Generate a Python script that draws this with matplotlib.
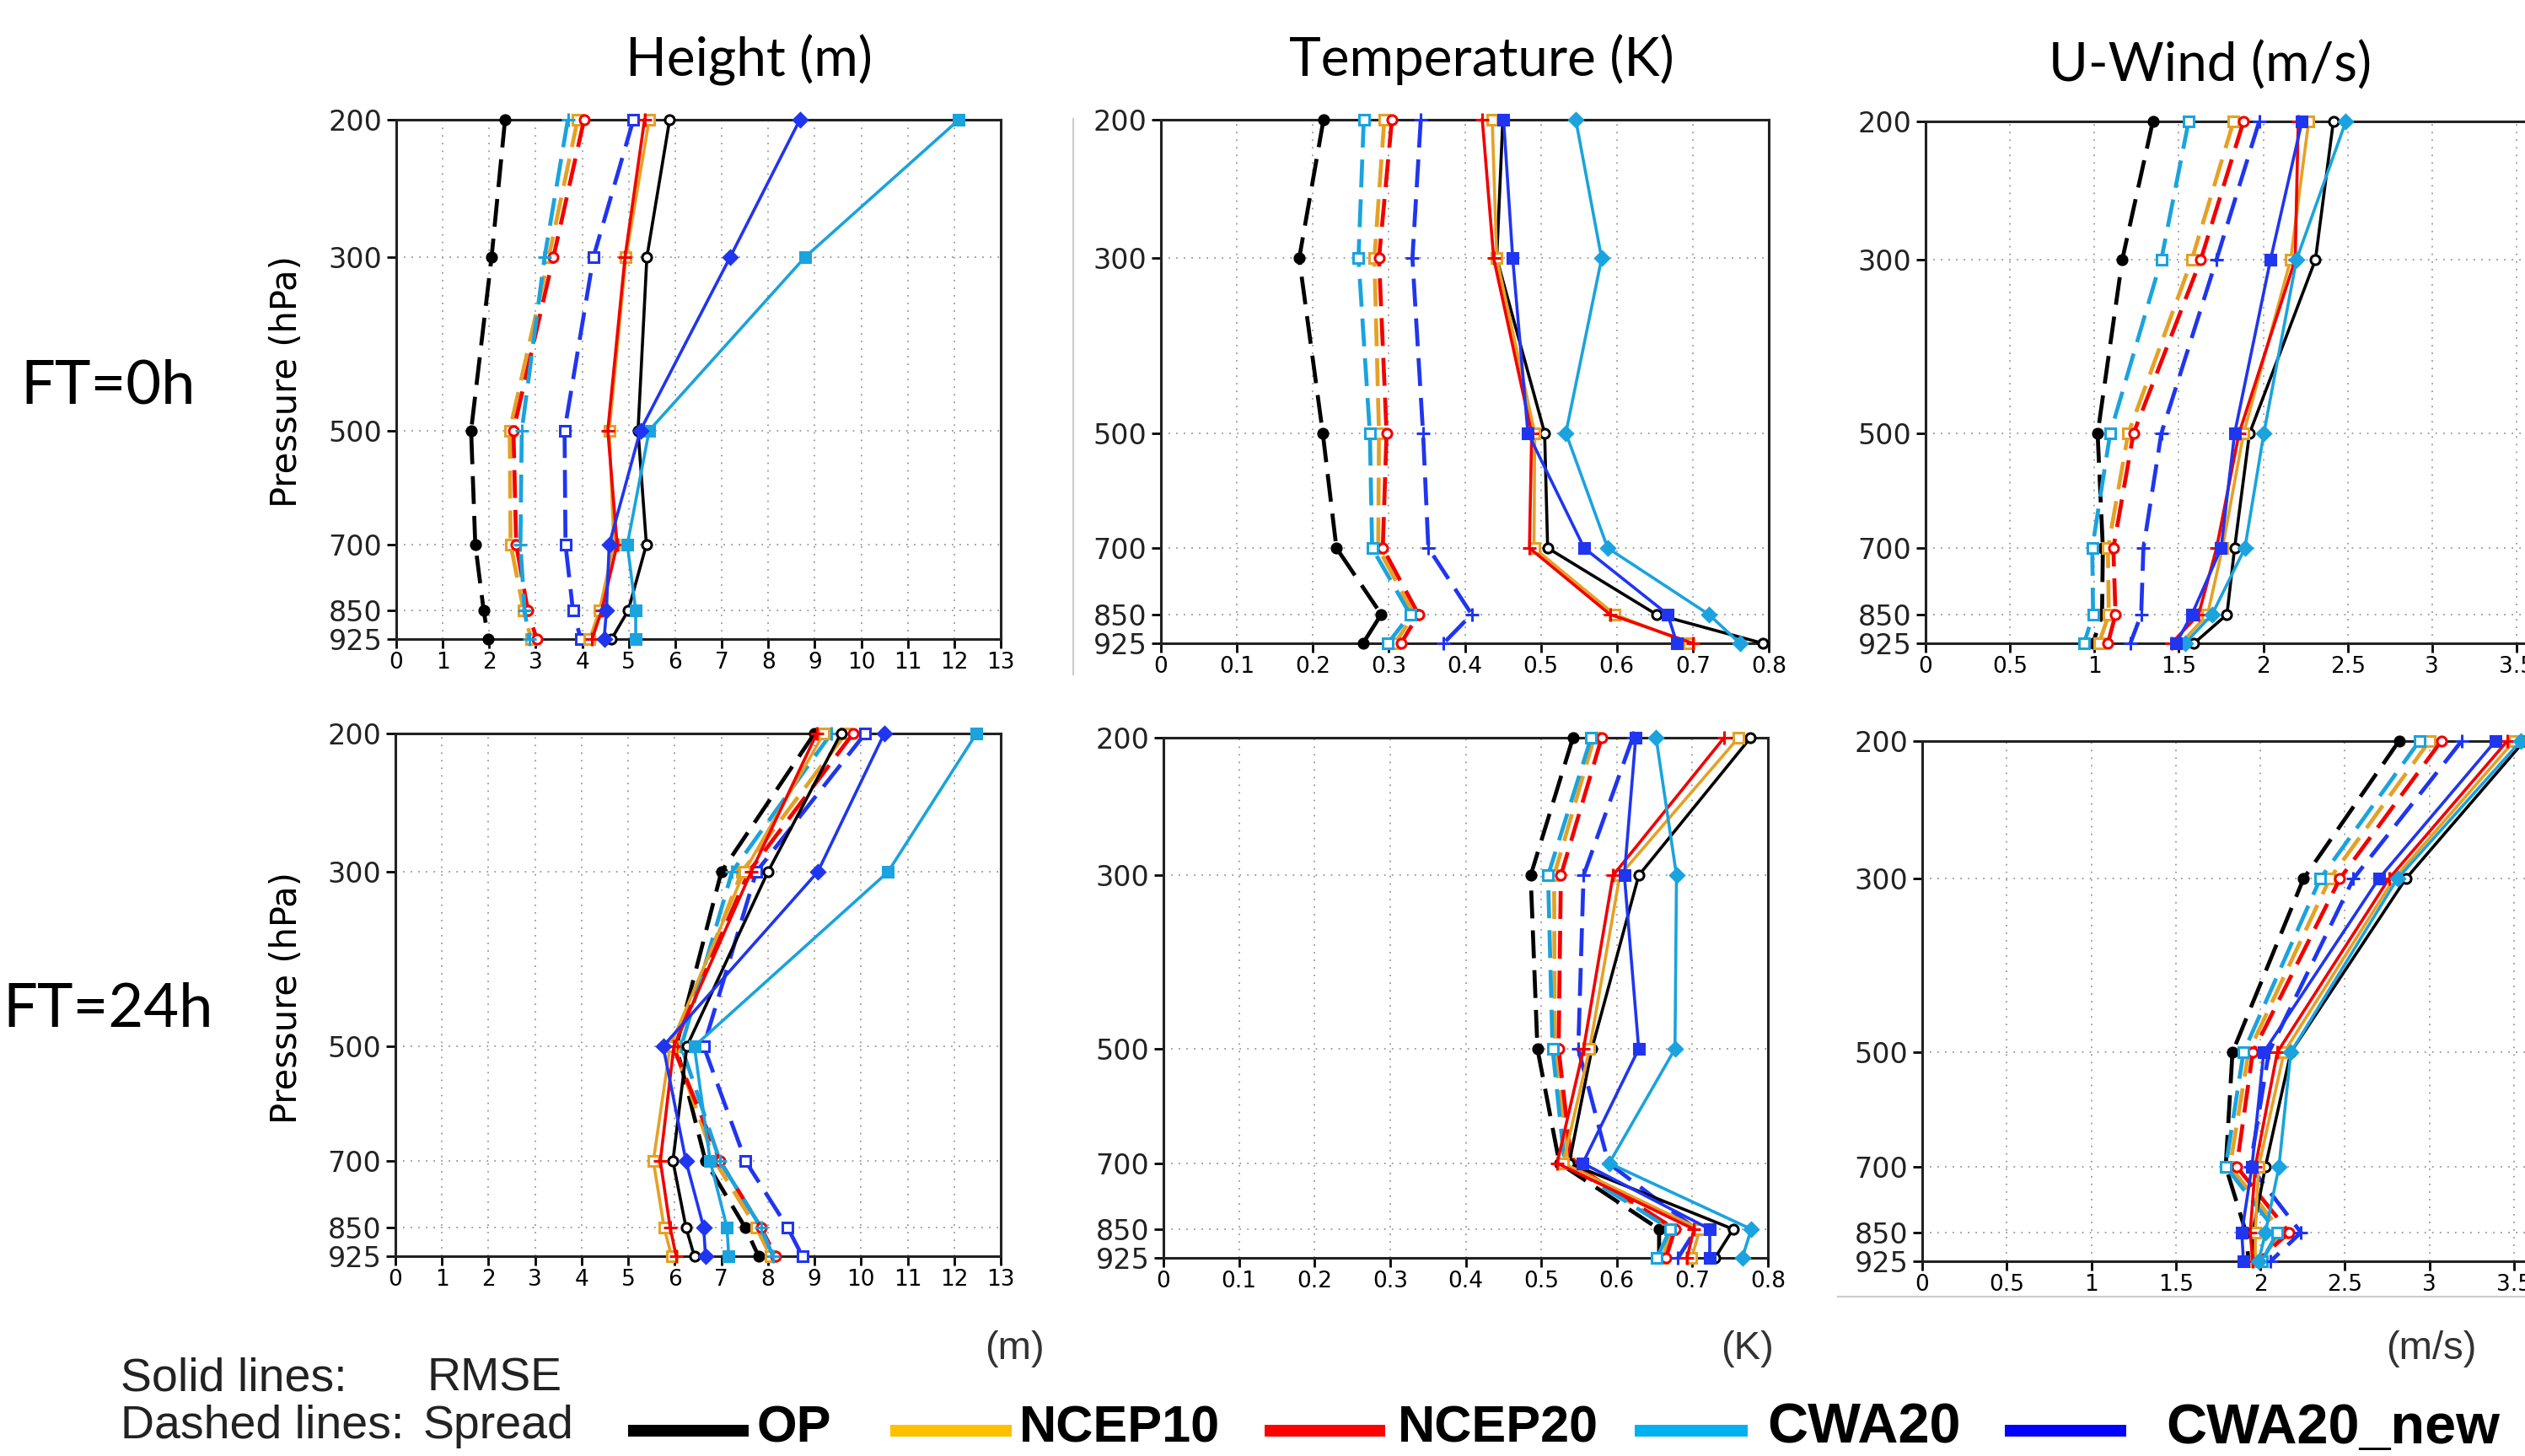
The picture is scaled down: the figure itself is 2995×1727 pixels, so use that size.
"""
Vertical profiles of RMSE (solid) and ensemble spread (dashed)
Height / Temperature / U-Wind, FT=0h and FT=24h
"""

import matplotlib
matplotlib.use("Agg")
import matplotlib.pyplot as plt
from matplotlib.lines import Line2D
from matplotlib.ticker import NullLocator

# ============================================================
# 1. Data
# ============================================================
MODELS = ["OP", "NCEP10", "NCEP20", "CWA20", "CWA20_new"]
LEVELS = [200, 300, 500, 700, 850, 925]

# rows follow MODELS
hgt_ft0_rmse = [
    [5.88, 5.39, 5.20, 5.38, 4.99, 4.63],
    [5.44, 4.94, 4.58, 4.68, 4.37, 4.16],
    [5.34, 4.92, 4.55, 4.75, 4.42, 4.21],
    [12.10, 8.79, 5.44, 4.97, 5.15, 5.15],
    [8.68, 7.18, 5.25, 4.58, 4.52, 4.47],
]
hgt_ft0_spread = [
    [2.34, 2.05, 1.61, 1.70, 1.88, 1.98],
    [3.90, 3.28, 2.44, 2.46, 2.74, 2.90],
    [4.04, 3.38, 2.52, 2.58, 2.83, 3.02],
    [3.69, 3.19, 2.70, 2.67, 2.76, 2.86],
    [5.10, 4.24, 3.62, 3.64, 3.80, 3.97],
]
tmp_ft0_rmse = [
    [0.450, 0.442, 0.505, 0.509, 0.652, 0.792],
    [0.436, 0.442, 0.492, 0.491, 0.597, 0.695],
    [0.423, 0.438, 0.488, 0.485, 0.591, 0.700],
    [0.546, 0.580, 0.533, 0.588, 0.721, 0.762],
    [0.451, 0.463, 0.483, 0.557, 0.667, 0.679],
]
tmp_ft0_spread = [
    [0.214, 0.182, 0.213, 0.231, 0.290, 0.266],
    [0.294, 0.281, 0.287, 0.286, 0.333, 0.308],
    [0.304, 0.287, 0.297, 0.292, 0.339, 0.316],
    [0.267, 0.260, 0.275, 0.278, 0.328, 0.299],
    [0.342, 0.331, 0.345, 0.352, 0.409, 0.372],
]
uwd_ft0_rmse = [
    [2.415, 2.309, 1.918, 1.830, 1.785, 1.590],
    [2.269, 2.162, 1.883, 1.758, 1.670, 1.511],
    [2.207, 2.189, 1.856, 1.723, 1.617, 1.457],
    [2.489, 2.197, 2.003, 1.891, 1.697, 1.537],
    [2.229, 2.043, 1.830, 1.750, 1.577, 1.484],
]
uwd_ft0_spread = [
    [1.346, 1.165, 1.019, 1.050, 1.045, 0.992],
    [1.824, 1.577, 1.200, 1.080, 1.085, 1.027],
    [1.883, 1.630, 1.231, 1.112, 1.125, 1.080],
    [1.558, 1.396, 1.093, 0.987, 0.992, 0.939],
    [1.976, 1.723, 1.396, 1.290, 1.277, 1.213],
]
hgt_ft24_rmse = [
    [9.57, 8.00, 6.26, 5.96, 6.24, 6.42],
    [9.20, 7.49, 5.90, 5.54, 5.77, 5.93],
    [9.05, 7.64, 5.98, 5.69, 5.90, 6.03],
    [12.48, 10.58, 6.42, 6.76, 7.12, 7.16],
    [10.50, 9.07, 5.75, 6.24, 6.62, 6.66],
]
hgt_ft24_spread = [
    [9.00, 7.00, 6.03, 6.66, 7.51, 7.80],
    [9.67, 7.44, 5.98, 6.86, 7.75, 8.06],
    [9.83, 7.59, 5.96, 6.97, 7.85, 8.16],
    [9.36, 7.23, 6.14, 6.97, 7.85, 8.11],
    [10.09, 7.75, 6.62, 7.52, 8.42, 8.74],
]
tmp_ft24_rmse = [
    [0.777, 0.629, 0.567, 0.537, 0.754, 0.730],
    [0.761, 0.604, 0.564, 0.529, 0.710, 0.699],
    [0.742, 0.595, 0.556, 0.521, 0.702, 0.693],
    [0.652, 0.679, 0.677, 0.590, 0.778, 0.766],
    [0.625, 0.610, 0.629, 0.555, 0.723, 0.723],
]
tmp_ft24_spread = [
    [0.542, 0.486, 0.495, 0.524, 0.656, 0.656],
    [0.570, 0.517, 0.518, 0.537, 0.673, 0.661],
    [0.580, 0.526, 0.523, 0.540, 0.677, 0.665],
    [0.566, 0.509, 0.515, 0.531, 0.671, 0.653],
    [0.621, 0.556, 0.549, 0.589, 0.705, 0.681],
]
uwd_ft24_rmse = [
    [3.56, 2.86, 2.18, 2.03, 1.955, 1.97],
    [3.50, 2.79, 2.14, 1.99, 1.97, 1.97],
    [3.46, 2.76, 2.10, 1.97, 1.94, 1.955],
    [3.54, 2.81, 2.18, 2.11, 2.03, 1.99],
    [3.39, 2.70, 2.02, 1.95, 1.89, 1.90],
]
uwd_ft24_spread = [
    [2.82, 2.255, 1.835, 1.795, 1.915, 1.93],
    [3.00, 2.41, 1.93, 1.82, 2.13, 1.99],
    [3.07, 2.47, 1.955, 1.86, 2.17, 1.98],
    [2.94, 2.354, 1.90, 1.795, 2.10, 2.01],
    [3.19, 2.55, 2.05, 1.94, 2.24, 2.06],
]

VAR_TITLES = ["Height (m)", "Temperature (K)", "U-Wind (m/s)"]
UNITS = ["(m)", "(K)", "(m/s)"]
ROW_LABELS = ["FT=0h", "FT=24h"]
X_TICKS = [list(range(0, 14)),
           [0, 0.1, 0.2, 0.3, 0.4, 0.5, 0.6, 0.7, 0.8],
           [0, 0.5, 1, 1.5, 2, 2.5, 3, 3.5]]
X_TICKLABELS = [[str(v) for v in range(0, 14)],
                ["0", "0.1", "0.2", "0.3", "0.4", "0.5", "0.6", "0.7", "0.8"],
                ["0", "0.5", "1", "1.5", "2", "2.5", "3", "3.5"]]
X_LIMS = [(0, 13), (0, 0.8), (0, 3.6)]

PANELS = [
    [(hgt_ft0_rmse, hgt_ft0_spread), (tmp_ft0_rmse, tmp_ft0_spread), (uwd_ft0_rmse, uwd_ft0_spread)],
    [(hgt_ft24_rmse, hgt_ft24_spread), (tmp_ft24_rmse, tmp_ft24_spread), (uwd_ft24_rmse, uwd_ft24_spread)],
]

# ============================================================
# 2. Styles
# ============================================================
PLOT_COLORS = {"OP": "black", "NCEP10": "#E5A125", "NCEP20": "#F20000",
               "CWA20": "#1AA3DE", "CWA20_new": "#2035F0"}
LEGEND_COLORS = {"OP": "black", "NCEP10": "#FFC000", "NCEP20": "#FF0000",
                 "CWA20": "#00B0F0", "CWA20_new": "#0000FF"}

# (solid marker, solid filled, dashed marker, dashed filled)
MARKERS_HGT = {"OP": ("o", False, "o", True), "NCEP10": ("s", False, "s", False),
               "NCEP20": ("+", True, "o", False), "CWA20": ("s", True, "+", True),
               "CWA20_new": ("D", True, "s", False)}
MARKERS_OTHER = {"OP": ("o", False, "o", True), "NCEP10": ("s", False, "s", False),
                 "NCEP20": ("+", True, "o", False), "CWA20": ("D", True, "s", False),
                 "CWA20_new": ("s", True, "+", True)}

# panel boxes in pixels (x0, y0, x1, y1)
W, H = 2995, 1727
BOXES = [
    [(470, 142, 1187, 758), (1377, 142, 2098, 763), (2284, 144, 3005, 763)],
    [(469, 870, 1187, 1490), (1380, 875, 2097, 1492), (2280, 879, 3002, 1496)],
]

fig = plt.figure(figsize=(W / 100, H / 100), dpi=100)
fig.patch.set_facecolor("white")


def px_axes(box):
    x0, y0, x1, y1 = box
    return fig.add_axes([x0 / W, 1 - y1 / H, (x1 - x0) / W, (y1 - y0) / H])


def draw_series(ax, xs, color, marker, filled, dashed):
    kw = dict(color=color, marker=marker, markersize=8 if marker != "+" else 12,
              markeredgewidth=2.2, markerfacecolor=color if filled else "white",
              markeredgecolor=color, clip_on=False)
    if dashed:
        ax.plot(xs, LEVELS, linestyle=(0, (7, 3)), linewidth=3.4, zorder=3, **kw)
    else:
        ax.plot(xs, LEVELS, linestyle="-", linewidth=2.6, zorder=4, **kw)


# ============================================================
# 3. Panels
# ============================================================
for r in range(2):
    for c in range(3):
        ax = px_axes(BOXES[r][c])
        rmse, spread = PANELS[r][c]
        markers = MARKERS_HGT if c == 0 else MARKERS_OTHER

        for i, m in enumerate(MODELS):
            ms, mf, md, mdf = markers[m]
            draw_series(ax, spread[i], PLOT_COLORS[m], md, mdf, True)
        for i, m in enumerate(MODELS):
            ms, mf, md, mdf = markers[m]
            draw_series(ax, rmse[i], PLOT_COLORS[m], ms, mf, False)

        ax.set_yscale("log")
        ax.set_ylim(925, 200)
        ax.set_yticks(LEVELS)
        ax.set_yticklabels([str(v) for v in LEVELS], fontsize=24,
                           family="DejaVu Sans", color="#222222")
        ax.yaxis.set_minor_locator(NullLocator())
        ax.set_xlim(*X_LIMS[c])
        ax.set_xticks(X_TICKS[c])
        ax.set_xticklabels(X_TICKLABELS[c], fontsize=19, family="DejaVu Sans")
        ax.tick_params(axis="both", direction="out", length=8, width=2,
                       pad=3, color="black")
        ax.tick_params(axis="y", pad=4)
        ax.grid(True, which="major", linestyle=(0, (1, 4)), color="#999999",
                linewidth=1.3)
        for s in ax.spines.values():
            s.set_linewidth(2.2)
            s.set_color("#222222")

# ============================================================
# 4. Labels
# ============================================================
title_x = [888, 1757, 2622]
title_y = [71, 71, 78]
for c in range(3):
    fig.text(title_x[c] / W, 1 - title_y[c] / H, VAR_TITLES[c], family="Lato",
             fontsize=46, ha="center", va="center")

for r, yc in enumerate([458, 1197]):
    fig.text(128 / W, 1 - yc / H, ROW_LABELS[r], family="Lato", fontsize=52,
             ha="center", va="center")

for yc in [453, 1184]:
    fig.text(340 / W, 1 - yc / H, "Pressure (hPa)", family="DejaVu Sans",
             fontsize=30, rotation=90, ha="center", va="center")

# separators from the original composite
fig.add_artist(Line2D([1273 / W, 1273 / W], [1 - 141 / H, 1 - 800 / H],
                      color="#cccccc", linewidth=1.5))
fig.add_artist(Line2D([2180 / W, 1.0], [1 - 1538 / H, 1 - 1538 / H],
                      color="#cccccc", linewidth=1.5))

# ============================================================
# 5. Legend
# ============================================================
unit_x = [1203, 2072, 2884]
for c in range(3):
    fig.text(unit_x[c] / W, 1 - 1600 / H, UNITS[c], family="Liberation Sans",
             fontsize=34, ha="center", va="center", color="#333333")

fig.text(143 / W, 1 - 1635 / H, "Solid lines:", family="Liberation Sans",
         fontsize=40, ha="left", va="center", color="#222222")
fig.text(506 / W, 1 - 1635 / H, "RMSE", family="Liberation Sans",
         fontsize=40, ha="left", va="center", color="#222222")
fig.text(143 / W, 1 - 1692 / H, "Dashed lines:", family="Liberation Sans",
         fontsize=40, ha="left", va="center", color="#222222")
fig.text(502 / W, 1 - 1692 / H, "Spread", family="Liberation Sans",
         fontsize=40, ha="left", va="center", color="#222222")

leg_line_x = [(745, 888), (1056, 1200), (1500, 1643), (1939, 2073), (2378, 2522)]
leg_text_x = [898, 1209, 1658, 2096, 2569]
leg_size = [44, 44, 44, 48, 48]
for i, m in enumerate(MODELS):
    x0, x1 = leg_line_x[i]
    fig.add_artist(Line2D([x0 / W, x1 / W], [1 - 1697 / H, 1 - 1697 / H],
                          color=LEGEND_COLORS[m], linewidth=10,
                          solid_capstyle="butt"))
    fig.text(leg_text_x[i] / W, 1 - 1695 / H, m, family="Liberation Sans",
             fontweight="bold", fontsize=leg_size[i], ha="left", va="center")

fig.savefig("out.png", dpi=100, facecolor="white")
plt.close()
print("Saved: out.png")
